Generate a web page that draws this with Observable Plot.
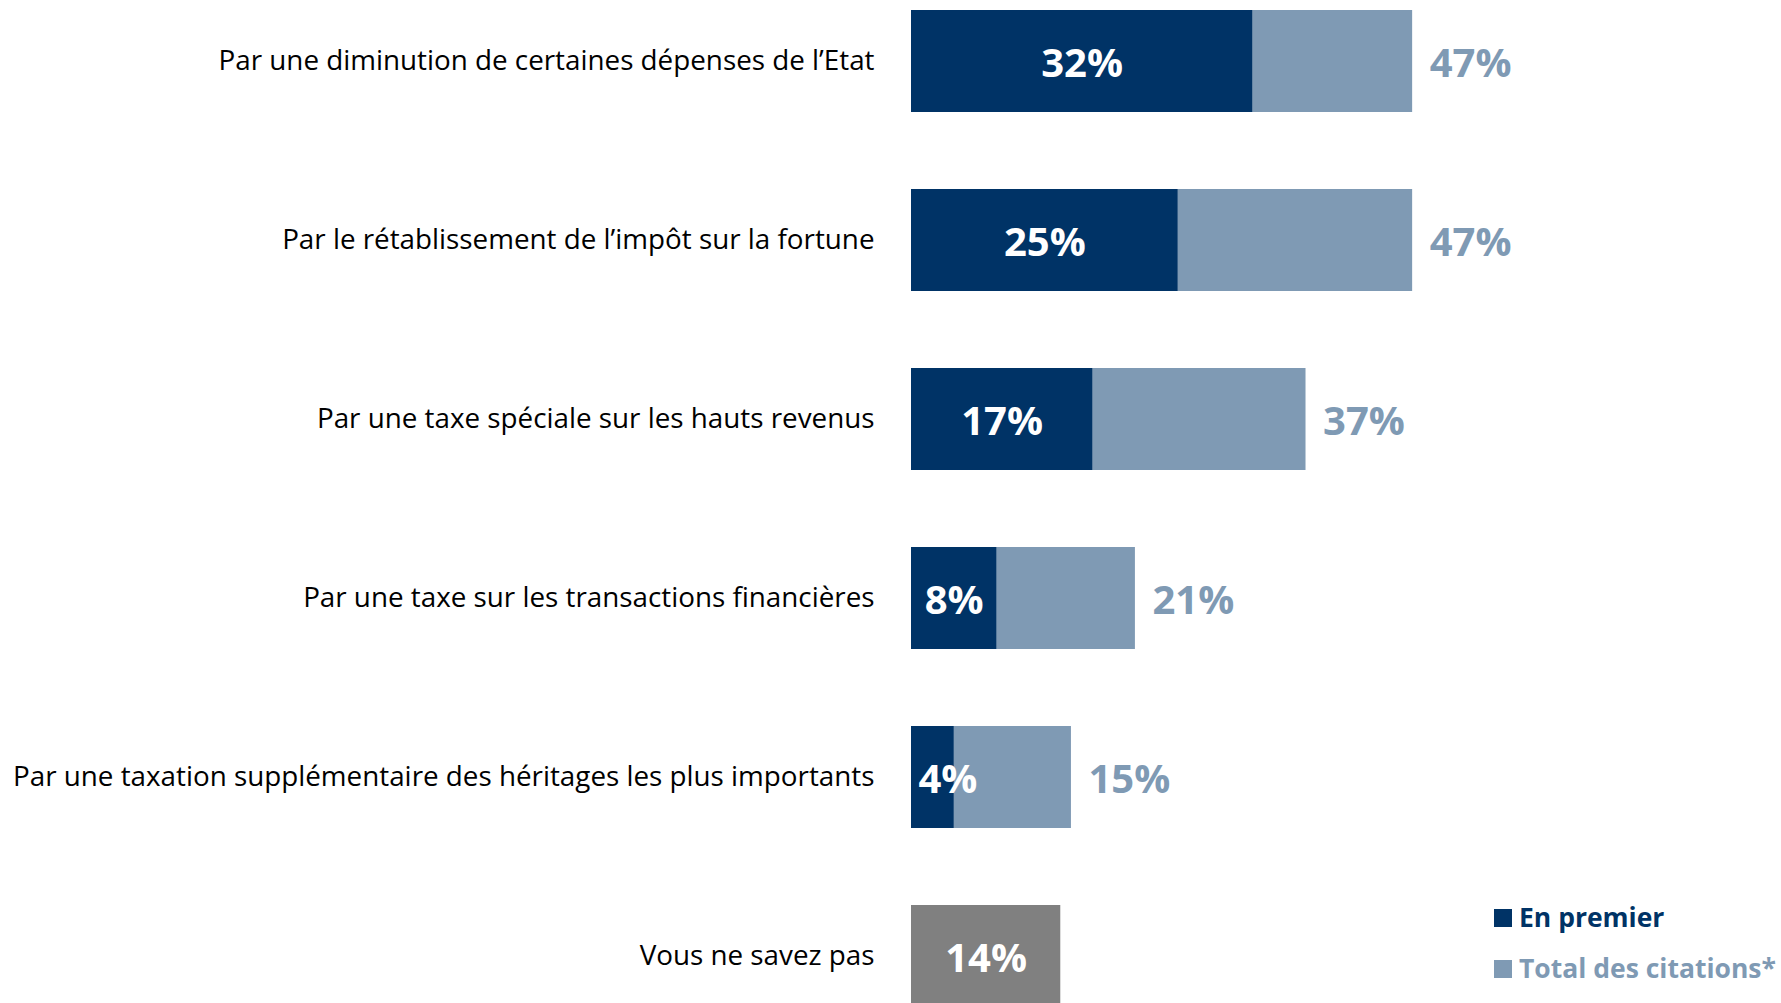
<!DOCTYPE html>
<html>
<head>
<meta charset="utf-8">
<script src="https://cdn.jsdelivr.net/npm/d3@7"></script>
<script src="https://cdn.jsdelivr.net/npm/@observablehq/plot@0.6"></script>
<style>
  html, body { margin: 0; padding: 0; background: #fff; overflow: hidden; }
  #wrap { position: relative; width: 1781px; height: 1003px; overflow: hidden; }
  #legend { position: absolute; left: 1494px; top: 892px; font-family: "Open Sans", sans-serif; font-weight: 700; font-size: 26.5px; line-height: 51px; }
  #legend .item { display: flex; align-items: center; white-space: nowrap; }
  #legend .sw { width: 18px; height: 18px; margin-right: 7px; display: inline-block; }
</style>
</head>
<body>
<div id="wrap"><div id="legend"></div></div>
<script>
const categories = [
  "Par une diminution de certaines dépenses de l’Etat",
  "Par le rétablissement de l’impôt sur la fortune",
  "Par une taxe spéciale sur les hauts revenus",
  "Par une taxe sur les transactions financières",
  "Par une taxation supplémentaire des héritages les plus importants",
  "Vous ne savez pas"
];
const enPremier = [32, 25, 17, 8, 4, null];
const totalCitations = [47, 47, 37, 21, 15, null];
const nsp = [null, null, null, null, null, 14];
const seriesNames = ["En premier", "Total des citations*"];

const DARK = "#003366", LIGHT = "#7f9ab4", GREY = "#808080";

const rows = categories.map((c, i) => ({cat: c, premier: enPremier[i], total: totalCitations[i], nsp: nsp[i]}));
const main = rows.filter(d => d.premier != null);
const other = rows.filter(d => d.nsp != null);
const wide = main.filter(d => d.premier >= 6);
const narrow = main.filter(d => d.premier < 6);

const chart = Plot.plot({
  width: 1781,
  height: 1003,
  marginLeft: 911,
  marginRight: 17,
  marginTop: 10,
  marginBottom: -5,
  style: {fontFamily: "Open Sans, sans-serif", background: "white", color: "#000", overflow: "hidden"},
  x: {domain: [0, 80], axis: null},
  y: {domain: categories, paddingInner: 0.43, paddingOuter: 0, label: null},
  marks: [
    Plot.axisY({tickSize: 0, tickPadding: 37, fontSize: 27.8, label: null}),
    Plot.barX(main, {y: "cat", x1: 0, x2: "total", fill: LIGHT}),
    Plot.barX(main, {y: "cat", x1: 0, x2: "premier", fill: DARK}),
    Plot.barX(other, {y: "cat", x1: 0, x2: "nsp", fill: GREY}),
    Plot.text(wide, {y: "cat", x: d => d.premier / 2, text: d => d.premier + "%", fill: "white", fontSize: 40, fontWeight: 700, dy: 3}),
    Plot.text(narrow, {y: "cat", x: 0, text: d => d.premier + "%", fill: "white", fontSize: 40, fontWeight: 700, textAnchor: "start", dx: 7, dy: 3}),
    Plot.text(main, {y: "cat", x: "total", text: d => d.total + "%", fill: LIGHT, fontSize: 40, fontWeight: 700, textAnchor: "start", dx: 17, dy: 3}),
    Plot.text(other, {y: "cat", x: d => d.nsp / 2, text: d => d.nsp + "%", fill: "white", fontSize: 40, fontWeight: 700, dy: 3})
  ]
});
document.getElementById("wrap").prepend(chart);

const legend = document.getElementById("legend");
[[seriesNames[0], DARK], [seriesNames[1], LIGHT]].forEach(([name, col]) => {
  const it = document.createElement("div");
  it.className = "item";
  it.innerHTML = `<span class="sw" style="background:${col}"></span><span style="color:${col}">${name}</span>`;
  legend.appendChild(it);
});
</script>
</body>
</html>
